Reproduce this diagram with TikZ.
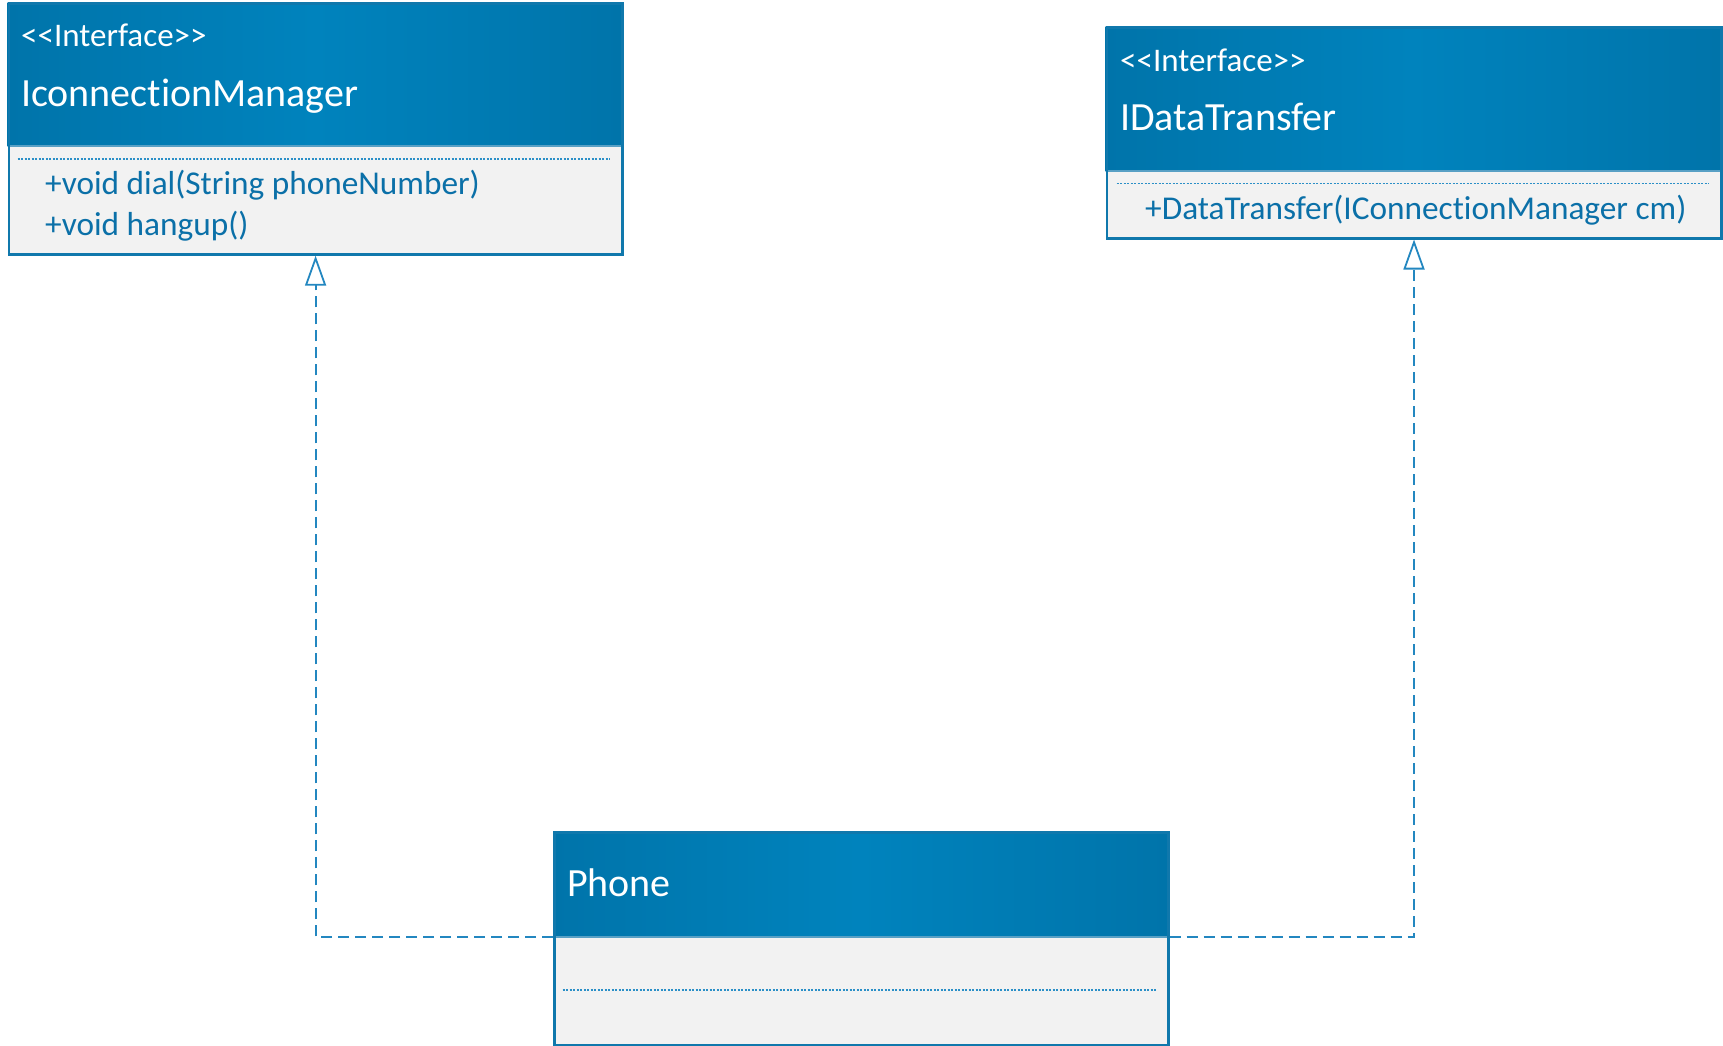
\documentclass[tikz,border=0pt]{standalone}
\usepackage{fontspec}
\setmainfont{Carlito}[Ligatures=NoCommon]
\usetikzlibrary{arrows.meta}
\definecolor{hdmid}{HTML}{0083BD}
\definecolor{hdedge}{HTML}{0074AA}
\definecolor{frame}{HTML}{1078AC}
\definecolor{bodyfill}{HTML}{F2F2F2}
\definecolor{txt}{HTML}{0B70A8}
\definecolor{dotc}{HTML}{2A8FC7}
\definecolor{conn}{HTML}{2387C0}
\tikzset{
 classbox/.style={draw=frame, line width=2.5pt, fill=bodyfill, inner sep=0pt, anchor=north west},
 header/.style={left color=hdedge, right color=hdedge, middle color=hdmid},
 outline/.style={draw=frame, line width=2.5pt},
 divider/.style={draw=frame!70, line width=1.2pt},
 stereo/.style={anchor=west, text=white, font=\fontsize{33}{38}\selectfont, inner sep=0pt},
 cname/.style={anchor=west, text=white, font=\fontsize{40}{46}\selectfont, inner sep=0pt},
 member/.style={anchor=west, text=txt, font=\fontsize{33.3}{39}\selectfont, inner sep=0pt},
 sepline/.style={draw=dotc, line width=1.5pt, dash pattern=on 2pt off 1.5pt},
 realize/.style={draw=conn, line width=1.8pt, dash pattern=on 11pt off 6pt,
   -{Triangle[open, length=30pt, width=21pt, line width=1.8pt]}},
}
\begin{document}
\begin{tikzpicture}[x=1pt, y=-1pt]
\useasboundingbox (0,0) rectangle (1723,1046);

% IconnectionManager
\node[classbox, minimum width=613.3pt, minimum height=251pt] (icm) at (7.7,2.2) {};
\shade[header] (7.7,2.2) rectangle (621,146);
\draw[divider] (7.7,146) -- (621,146);
\draw[outline] (icm.north west) ++(1.25,1.25) rectangle ([xshift=-1.25pt,yshift=1.25pt]icm.south east);
\node[stereo] (icm-st) at (21,35) {<{}<Interface>{}>};
\node[cname] (icm-nm) at (21,96) {IconnectionManager};
\draw[sepline] (17.6,159) -- (610,159);
\node[member] (icm-m1) at (45,185.5) {+void dial(String phoneNumber)};
\node[member] (icm-m2) at (45,226) {+void hangup()};

% IDataTransfer
\node[classbox, minimum width=614.5pt, minimum height=210.6pt] (idt) at (1105.5,26.4) {};
\shade[header] (1105.5,26.4) rectangle (1720,171);
\draw[divider] (1105.5,171) -- (1720,171);
\draw[outline] (idt.north west) ++(1.25,1.25) rectangle ([xshift=-1.25pt,yshift=1.25pt]idt.south east);
\node[stereo] (idt-st) at (1120,60) {<{}<Interface>{}>};
\node[cname] (idt-nm) at (1120,117) {IDataTransfer};
\draw[sepline] (1116.5,183.5) -- (1709,183.5);
\node[member] (idt-m1) at (1145,210.5) {+DataTransfer(IConnectionManager cm)};

% Phone
\node[classbox, minimum width=614pt, minimum height=213pt] (ph) at (553,831) {};
\shade[header] (553,831) rectangle (1167,937);
\draw[divider] (553,937) -- (1167,937);
\draw[outline] (ph.north west) ++(1.25,1.25) rectangle ([xshift=-1.25pt,yshift=1.25pt]ph.south east);
\node[cname] (ph-nm) at (567,883) {Phone};
\draw[sepline] (562.6,990) -- (1156,990);

% connectors
\coordinate (ph-l) at (ph.west |- 0,937);
\coordinate (ph-r) at (ph.east |- 0,937);
\draw[realize] (ph-l) -| (icm.south);
\draw[realize] (ph-r) -| (idt.south);
\end{tikzpicture}
\end{document}
